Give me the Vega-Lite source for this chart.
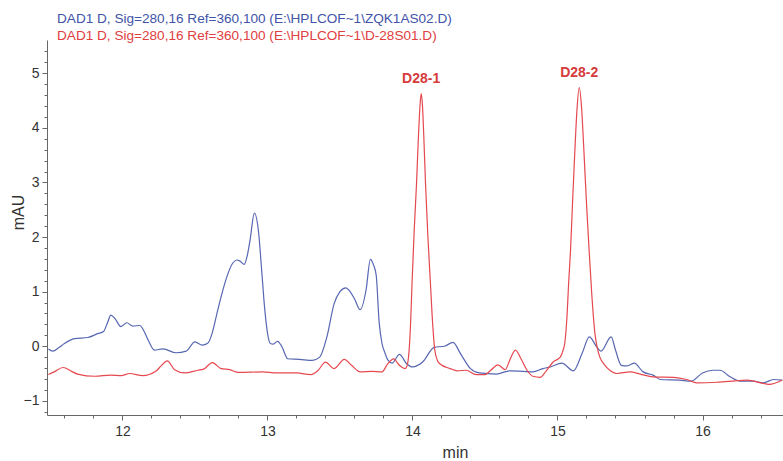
{
  "$schema": "https://vega.github.io/schema/vega-lite/v6.json",
  "autosize": "none",
  "width": 736,
  "height": 375,
  "padding": {"left": 47, "top": 40, "right": 0, "bottom": 46},
  "background": "white",
  "config": {
    "view": {"stroke": null},
    "font": "Liberation Sans"
  },
  "title": {
    "text": "DAD1 D, Sig=280,16 Ref=360,100 (E:\\HPLCOF~1\\ZQK1AS02.D)",
    "subtitle": "DAD1 D, Sig=280,16 Ref=360,100 (E:\\HPLCOF~1\\D-28S01.D)",
    "anchor": "start",
    "frame": "group",
    "dx": 10,
    "offset": -3,
    "font": "Liberation Sans",
    "subtitleFont": "Liberation Sans",
    "fontSize": 13.6,
    "subtitleFontSize": 13.6,
    "fontWeight": "normal",
    "color": "#4254a8",
    "subtitleColor": "#e0403f",
    "subtitlePadding": 4
  },
  "datasets": {
    "zqk1as02": [
      {"t": 11.49, "v": -0.05}, {"t": 11.52, "v": -0.09}, {"t": 11.56, "v": -0.03}, {"t": 11.60, "v": 0.05},
      {"t": 11.67, "v": 0.14}, {"t": 11.76, "v": 0.16}, {"t": 11.83, "v": 0.23}, {"t": 11.87, "v": 0.27},
      {"t": 11.90, "v": 0.45}, {"t": 11.92, "v": 0.57}, {"t": 11.95, "v": 0.50}, {"t": 11.99, "v": 0.36},
      {"t": 12.03, "v": 0.43}, {"t": 12.07, "v": 0.37}, {"t": 12.12, "v": 0.38}, {"t": 12.15, "v": 0.27},
      {"t": 12.18, "v": 0.10}, {"t": 12.22, "v": -0.07}, {"t": 12.28, "v": -0.05}, {"t": 12.37, "v": -0.12},
      {"t": 12.44, "v": -0.09}, {"t": 12.50, "v": 0.08}, {"t": 12.55, "v": 0.02}, {"t": 12.59, "v": 0.06},
      {"t": 12.62, "v": 0.25}, {"t": 12.65, "v": 0.58}, {"t": 12.69, "v": 1.00}, {"t": 12.72, "v": 1.27},
      {"t": 12.76, "v": 1.52}, {"t": 12.79, "v": 1.58}, {"t": 12.81, "v": 1.56}, {"t": 12.84, "v": 1.50},
      {"t": 12.86, "v": 1.65}, {"t": 12.88, "v": 1.94}, {"t": 12.91, "v": 2.44}, {"t": 12.94, "v": 2.06},
      {"t": 12.96, "v": 1.40}, {"t": 12.98, "v": 0.72}, {"t": 13.00, "v": 0.25}, {"t": 13.02, "v": 0.05},
      {"t": 13.04, "v": 0.04}, {"t": 13.07, "v": 0.09}, {"t": 13.10, "v": -0.01}, {"t": 13.14, "v": -0.23},
      {"t": 13.22, "v": -0.24}, {"t": 13.31, "v": -0.26}, {"t": 13.36, "v": -0.20}, {"t": 13.41, "v": 0.17},
      {"t": 13.46, "v": 0.78}, {"t": 13.50, "v": 1.00}, {"t": 13.54, "v": 1.07}, {"t": 13.57, "v": 1.00},
      {"t": 13.60, "v": 0.87}, {"t": 13.64, "v": 0.67}, {"t": 13.68, "v": 1.03}, {"t": 13.71, "v": 1.59},
      {"t": 13.73, "v": 1.50}, {"t": 13.75, "v": 1.30}, {"t": 13.77, "v": 0.45}, {"t": 13.79, "v": 0.05},
      {"t": 13.81, "v": -0.12}, {"t": 13.83, "v": -0.25}, {"t": 13.86, "v": -0.31}, {"t": 13.91, "v": -0.15},
      {"t": 13.96, "v": -0.32}, {"t": 14.00, "v": -0.38}, {"t": 14.07, "v": -0.29}, {"t": 14.15, "v": -0.02},
      {"t": 14.22, "v": 0.00}, {"t": 14.28, "v": 0.07}, {"t": 14.33, "v": -0.13}, {"t": 14.40, "v": -0.41},
      {"t": 14.46, "v": -0.49}, {"t": 14.58, "v": -0.51}, {"t": 14.67, "v": -0.45}, {"t": 14.76, "v": -0.46},
      {"t": 14.83, "v": -0.47}, {"t": 14.90, "v": -0.41}, {"t": 14.95, "v": -0.38}, {"t": 15.03, "v": -0.31},
      {"t": 15.11, "v": -0.45}, {"t": 15.17, "v": -0.13}, {"t": 15.22, "v": 0.17}, {"t": 15.27, "v": -0.01},
      {"t": 15.30, "v": -0.09}, {"t": 15.37, "v": 0.17}, {"t": 15.40, "v": -0.07}, {"t": 15.44, "v": -0.35},
      {"t": 15.48, "v": -0.36}, {"t": 15.53, "v": -0.31}, {"t": 15.59, "v": -0.47}, {"t": 15.66, "v": -0.53},
      {"t": 15.71, "v": -0.61}, {"t": 15.84, "v": -0.62}, {"t": 15.92, "v": -0.64}, {"t": 16.00, "v": -0.49},
      {"t": 16.07, "v": -0.44}, {"t": 16.12, "v": -0.44}, {"t": 16.19, "v": -0.56}, {"t": 16.26, "v": -0.64},
      {"t": 16.35, "v": -0.64}, {"t": 16.42, "v": -0.67}, {"t": 16.49, "v": -0.61}, {"t": 16.55, "v": -0.62}
    ],
    "d28s01": [
      {"t": 11.49, "v": -0.52}, {"t": 11.53, "v": -0.47}, {"t": 11.59, "v": -0.39}, {"t": 11.65, "v": -0.46},
      {"t": 11.69, "v": -0.51}, {"t": 11.81, "v": -0.55}, {"t": 11.92, "v": -0.53}, {"t": 11.99, "v": -0.54},
      {"t": 12.05, "v": -0.50}, {"t": 12.14, "v": -0.54}, {"t": 12.23, "v": -0.46}, {"t": 12.27, "v": -0.35},
      {"t": 12.31, "v": -0.27}, {"t": 12.36, "v": -0.43}, {"t": 12.43, "v": -0.49}, {"t": 12.52, "v": -0.44},
      {"t": 12.56, "v": -0.42}, {"t": 12.62, "v": -0.30}, {"t": 12.68, "v": -0.41}, {"t": 12.74, "v": -0.43},
      {"t": 12.80, "v": -0.48}, {"t": 12.97, "v": -0.47}, {"t": 13.06, "v": -0.49}, {"t": 13.20, "v": -0.49},
      {"t": 13.30, "v": -0.52}, {"t": 13.35, "v": -0.44}, {"t": 13.40, "v": -0.29}, {"t": 13.46, "v": -0.41},
      {"t": 13.53, "v": -0.24}, {"t": 13.58, "v": -0.35}, {"t": 13.64, "v": -0.47}, {"t": 13.72, "v": -0.46},
      {"t": 13.79, "v": -0.47}, {"t": 13.83, "v": -0.32}, {"t": 13.87, "v": -0.23}, {"t": 13.91, "v": -0.35},
      {"t": 13.947, "v": -0.41}, {"t": 13.961, "v": -0.37}, {"t": 13.977, "v": -0.07}, {"t": 13.988, "v": 0.48},
      {"t": 13.997, "v": 1.15}, {"t": 14.012, "v": 2.12}, {"t": 14.028, "v": 2.98}, {"t": 14.040, "v": 3.77},
      {"t": 14.051, "v": 4.36}, {"t": 14.060, "v": 4.63}, {"t": 14.069, "v": 4.41}, {"t": 14.078, "v": 3.86},
      {"t": 14.090, "v": 2.98}, {"t": 14.106, "v": 2.03}, {"t": 14.124, "v": 1.15}, {"t": 14.140, "v": 0.38},
      {"t": 14.154, "v": -0.07}, {"t": 14.172, "v": -0.26}, {"t": 14.188, "v": -0.32}, {"t": 14.26, "v": -0.41},
      {"t": 14.31, "v": -0.45}, {"t": 14.37, "v": -0.44}, {"t": 14.44, "v": -0.52}, {"t": 14.50, "v": -0.52},
      {"t": 14.54, "v": -0.44}, {"t": 14.59, "v": -0.34}, {"t": 14.64, "v": -0.43}, {"t": 14.67, "v": -0.26},
      {"t": 14.71, "v": -0.07}, {"t": 14.75, "v": -0.24}, {"t": 14.79, "v": -0.44}, {"t": 14.83, "v": -0.55},
      {"t": 14.88, "v": -0.57}, {"t": 14.92, "v": -0.46}, {"t": 14.97, "v": -0.29}, {"t": 15.019, "v": -0.20},
      {"t": 15.039, "v": -0.07}, {"t": 15.050, "v": 0.05}, {"t": 15.064, "v": 0.48}, {"t": 15.078, "v": 1.21},
      {"t": 15.090, "v": 1.76}, {"t": 15.106, "v": 2.77}, {"t": 15.120, "v": 3.59}, {"t": 15.134, "v": 4.32},
      {"t": 15.150, "v": 4.74}, {"t": 15.165, "v": 4.41}, {"t": 15.182, "v": 3.59}, {"t": 15.199, "v": 2.67},
      {"t": 15.218, "v": 1.76}, {"t": 15.237, "v": 0.93}, {"t": 15.258, "v": 0.24}, {"t": 15.275, "v": -0.04},
      {"t": 15.292, "v": -0.20}, {"t": 15.327, "v": -0.35}, {"t": 15.361, "v": -0.44}, {"t": 15.41, "v": -0.50},
      {"t": 15.50, "v": -0.47}, {"t": 15.57, "v": -0.51}, {"t": 15.66, "v": -0.56}, {"t": 15.80, "v": -0.57},
      {"t": 15.89, "v": -0.61}, {"t": 15.96, "v": -0.67}, {"t": 16.10, "v": -0.66}, {"t": 16.21, "v": -0.64},
      {"t": 16.31, "v": -0.62}, {"t": 16.40, "v": -0.67}, {"t": 16.46, "v": -0.70}, {"t": 16.55, "v": -0.62}
    ],
    "peaks": [
      {"t": 14.060, "v": 4.63, "label": "D28-1"},
      {"t": 15.150, "v": 4.74, "label": "D28-2"}
    ]
  },
  "resolve": {"axis": {"x": "independent", "y": "independent"}},
  "layer": [
    {
      "data": {"name": "zqk1as02"},
      "mark": {"type": "line", "interpolate": "monotone", "color": "#5767b2", "strokeWidth": 1.2, "clip": true},
      "encoding": {
        "x": {
          "field": "t", "type": "quantitative",
          "scale": {"domain": [11.48, 16.555], "nice": false, "zero": false},
          "axis": {
            "orient": "bottom",
            "values": [11.6, 11.8, 12.2, 12.4, 12.6, 12.8, 13.2, 13.4, 13.6, 13.8, 14.2, 14.4, 14.6, 14.8, 15.2, 15.4, 15.6, 15.8, 16.2, 16.4],
            "labels": false, "domain": false, "grid": false, "title": null,
            "tickSize": 3, "tickColor": "#666", "tickWidth": 1
          }
        },
        "y": {
          "field": "v", "type": "quantitative",
          "scale": {"domain": [-1.26, 5.61], "nice": false, "zero": false},
          "axis": {
            "orient": "left",
            "values": [-1.2, -0.8, -0.6, -0.4, -0.2, 0.2, 0.4, 0.6, 0.8, 1.2, 1.4, 1.6, 1.8, 2.2, 2.4, 2.6, 2.8, 3.2, 3.4, 3.6, 3.8, 4.2, 4.4, 4.6, 4.8, 5.2, 5.4],
            "labels": false, "domain": false, "grid": false, "title": null,
            "tickSize": 3, "tickColor": "#666", "tickWidth": 1
          }
        }
      }
    },
    {
      "data": {"name": "d28s01"},
      "mark": {"type": "line", "interpolate": "monotone", "color": "#e5484f", "strokeWidth": 1.2, "clip": true},
      "encoding": {
        "x": {
          "field": "t", "type": "quantitative",
          "scale": {"domain": [11.48, 16.555], "nice": false, "zero": false},
          "axis": {
            "orient": "bottom",
            "values": [12, 13, 14, 15, 16],
            "format": "d",
            "grid": false,
            "title": "min",
            "titleFont": "Liberation Sans", "titleFontSize": 16, "titleFontWeight": "normal", "titleColor": "#333",
            "titleX": 408, "titleY": 37, "titleAlign": "center", "titleBaseline": "middle",
            "labelFont": "Liberation Sans", "labelFontSize": 14, "labelColor": "#333", "labelPadding": 4,
            "domainColor": "#666", "domainWidth": 1,
            "tickSize": 5, "tickColor": "#666", "tickWidth": 1
          }
        },
        "y": {
          "field": "v", "type": "quantitative",
          "scale": {"domain": [-1.26, 5.61], "nice": false, "zero": false},
          "axis": {
            "orient": "left",
            "values": [-1, 0, 1, 2, 3, 4, 5],
            "format": "d",
            "grid": false,
            "title": "mAU",
            "titleFont": "Liberation Sans", "titleFontSize": 16, "titleFontWeight": "normal", "titleColor": "#333",
            "titleX": -29, "titleY": 172, "titleAngle": -90, "titleAlign": "center", "titleBaseline": "middle",
            "labelFont": "Liberation Sans", "labelFontSize": 14, "labelColor": "#333", "labelPadding": 3,
            "domainColor": "#666", "domainWidth": 1,
            "tickSize": 5, "tickColor": "#666", "tickWidth": 1
          }
        }
      }
    },
    {
      "data": {"name": "peaks"},
      "mark": {"type": "text", "font": "Liberation Sans", "fontSize": 14, "fontWeight": "bold", "color": "#d63b3b", "baseline": "bottom", "dy": -7},
      "encoding": {
        "x": {"field": "t", "type": "quantitative", "axis": null},
        "y": {"field": "v", "type": "quantitative", "axis": null},
        "text": {"field": "label"}
      }
    }
  ]
}
